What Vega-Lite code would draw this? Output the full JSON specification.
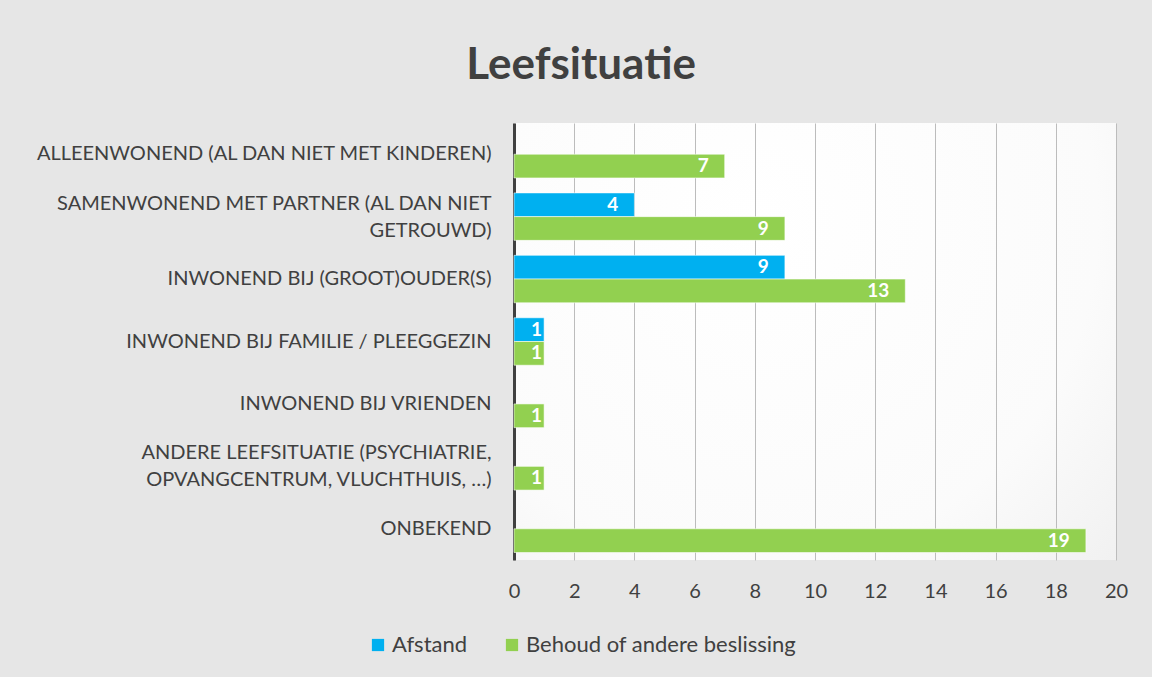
{
  "$schema": "https://vega.github.io/schema/vega-lite/v6.json",
  "width": 602,
  "height": 437,
  "autosize": {"type": "none"},
  "padding": {"left": 514, "top": 123, "right": 36, "bottom": 117},
  "background": "#e6e6e6",
  "title": {"text": "Leefsituatie", "frame": "bounds", "anchor": "middle", "font": "Lato", "fontSize": 44, "fontWeight": "bold", "color": "#404040", "offset": 35},
  "data": {
    "values": [
      {"situatie": "ALLEENWONEND (AL DAN NIET MET KINDEREN)", "reeks": "Behoud of andere beslissing", "aantal": 7},
      {"situatie": "SAMENWONEND MET PARTNER (AL DAN NIET GETROUWD)", "reeks": "Afstand", "aantal": 4},
      {"situatie": "SAMENWONEND MET PARTNER (AL DAN NIET GETROUWD)", "reeks": "Behoud of andere beslissing", "aantal": 9},
      {"situatie": "INWONEND BIJ (GROOT)OUDER(S)", "reeks": "Afstand", "aantal": 9},
      {"situatie": "INWONEND BIJ (GROOT)OUDER(S)", "reeks": "Behoud of andere beslissing", "aantal": 13},
      {"situatie": "INWONEND BIJ FAMILIE / PLEEGGEZIN", "reeks": "Afstand", "aantal": 1},
      {"situatie": "INWONEND BIJ FAMILIE / PLEEGGEZIN", "reeks": "Behoud of andere beslissing", "aantal": 1},
      {"situatie": "INWONEND BIJ VRIENDEN", "reeks": "Behoud of andere beslissing", "aantal": 1},
      {"situatie": "ANDERE LEEFSITUATIE (PSYCHIATRIE, OPVANGCENTRUM, VLUCHTHUIS, …)", "reeks": "Behoud of andere beslissing", "aantal": 1},
      {"situatie": "ONBEKEND", "reeks": "Behoud of andere beslissing", "aantal": 19}
    ]
  },
  "encoding": {
    "y": {
      "field": "situatie",
      "type": "nominal",
      "sort": [
        "ALLEENWONEND (AL DAN NIET MET KINDEREN)",
        "SAMENWONEND MET PARTNER (AL DAN NIET GETROUWD)",
        "INWONEND BIJ (GROOT)OUDER(S)",
        "INWONEND BIJ FAMILIE / PLEEGGEZIN",
        "INWONEND BIJ VRIENDEN",
        "ANDERE LEEFSITUATIE (PSYCHIATRIE, OPVANGCENTRUM, VLUCHTHUIS, …)",
        "ONBEKEND"
      ],
      "scale": {"paddingInner": 0.24, "paddingOuter": 0.12},
      "axis": {
        "title": null,
        "domain": true,
        "domainColor": "#404040",
        "domainWidth": 3,
        "ticks": false,
        "grid": false,
        "labelFont": "Lato",
        "labelFontSize": 20,
        "labelColor": "#404040",
        "labelPadding": 23,
        "labelLimit": 0,
        "labelLineHeight": 27,
        "labelOffset": {"condition": {"test": "indexof(datum.value, 'GETROUWD') >= 0 || indexof(datum.value, 'PSYCHIATRIE') >= 0", "value": -13}, "value": 0},
        "labelExpr": "datum.value == 'SAMENWONEND MET PARTNER (AL DAN NIET GETROUWD)' ? ['SAMENWONEND MET PARTNER (AL DAN NIET', 'GETROUWD)'] : datum.value == 'ANDERE LEEFSITUATIE (PSYCHIATRIE, OPVANGCENTRUM, VLUCHTHUIS, …)' ? ['ANDERE LEEFSITUATIE (PSYCHIATRIE,', 'OPVANGCENTRUM, VLUCHTHUIS, …)'] : datum.value"
      }
    },
    "yOffset": {
      "field": "reeks",
      "type": "nominal",
      "scale": {"domain": ["Afstand", "Behoud of andere beslissing"], "paddingInner": 0, "paddingOuter": 0}
    },
    "x": {
      "field": "aantal",
      "type": "quantitative",
      "scale": {"domain": [0, 20], "nice": false},
      "axis": {
        "title": null,
        "values": [0, 2, 4, 6, 8, 10, 12, 14, 16, 18, 20],
        "grid": true,
        "gridColor": "#bcbcbc",
        "gridWidth": 1,
        "domain": false,
        "ticks": false,
        "labelFlush": false,
        "labelFont": "Lato",
        "labelFontSize": 20,
        "labelColor": "#404040",
        "labelPadding": 21
      }
    }
  },
  "layer": [
    {
      "mark": {"type": "bar", "stroke": "#ffffff", "strokeOpacity": 0.55, "strokeWidth": 1},
      "encoding": {
        "color": {
          "field": "reeks",
          "type": "nominal",
          "scale": {"domain": ["Afstand", "Behoud of andere beslissing"], "range": ["#00B0F0", "#92D050"]},
          "legend": {
            "title": null,
            "orient": "none",
            "direction": "horizontal",
            "legendX": -147,
            "legendY": 511,
            "symbolType": "square",
            "symbolSize": 150,
            "symbolStrokeWidth": 0,
            "labelFont": "Lato",
            "labelFontSize": 22,
            "labelColor": "#404040",
            "labelLimit": 0,
            "labelOffset": 3,
            "columnPadding": 33
          }
        }
      }
    },
    {
      "transform": [{"filter": "datum.aantal >= 2"}],
      "mark": {"type": "text", "align": "right", "baseline": "middle", "dx": -16, "font": "Lato", "fontSize": 19, "fontWeight": "bold", "color": "#ffffff"},
      "encoding": {"text": {"field": "aantal", "type": "quantitative"}}
    },
    {
      "transform": [{"filter": "datum.aantal < 2"}],
      "mark": {"type": "text", "align": "right", "baseline": "middle", "dx": -2, "font": "Lato", "fontSize": 19, "fontWeight": "bold", "color": "#ffffff"},
      "encoding": {"text": {"field": "aantal", "type": "quantitative"}}
    }
  ],
  "config": {
    "view": {
      "stroke": null,
      "fill": {
        "gradient": "radial",
        "x1": 0.4, "y1": 0.3, "r1": 0,
        "x2": 0.4, "y2": 0.3, "r2": 0.95,
        "stops": [
          {"offset": 0, "color": "#ffffff"},
          {"offset": 0.6, "color": "#fbfbfb"},
          {"offset": 1, "color": "#ececec"}
        ]
      }
    }
  }
}
